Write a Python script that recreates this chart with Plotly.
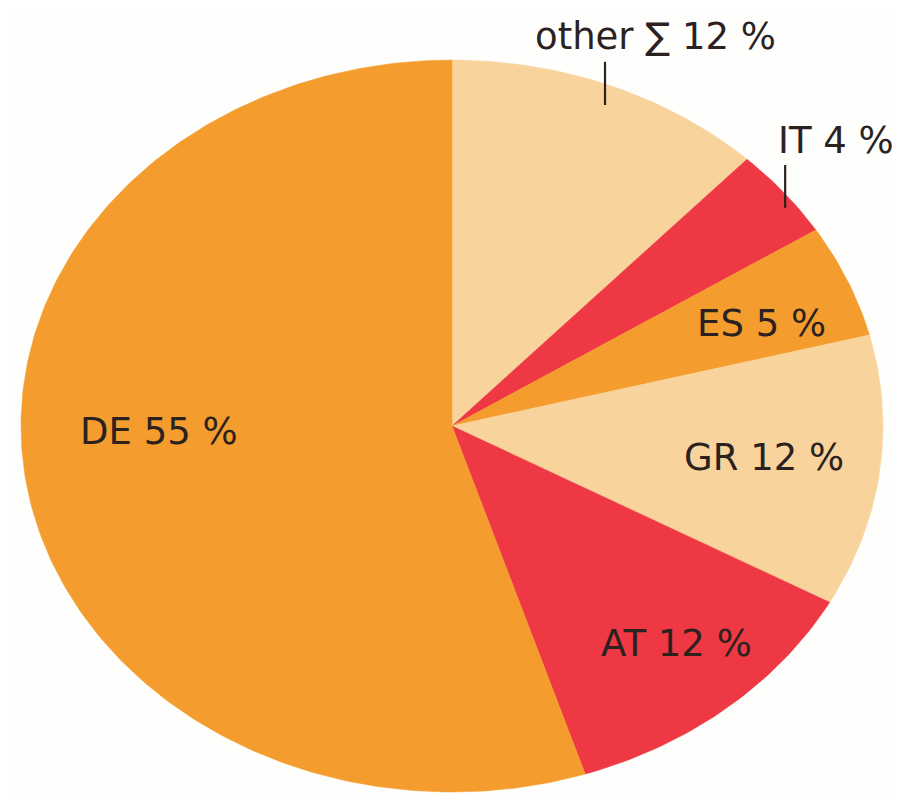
import numpy as np
import plotly.graph_objects as go

# ---- data ----
categories = ["other", "IT", "ES", "GR", "AT", "DE"]
shares = [12, 4, 5, 12, 12, 55]
labels = ["other \u2211 12 %", "IT 4 %", "ES 5 %", "GR 12 %", "AT 12 %", "DE 55 %"]

# ---- styling ----
colors = ["#F8D49C", "#EE3843", "#F49D2E", "#F8D49C", "#EE3843", "#F49D2E"]
text_color = "#2B221F"
# label anchors in normalized ellipse units (x: -1..1, y: -1..1)
label_pos = [(0.473, 1.063), (0.891, 0.781), (0.719, 0.281),
             (0.724, -0.087), (0.522, -0.593), (-0.680, -0.014)]
# leader lines for outside labels: (x, y0, y1)
leaders = [(0.355, 0.995, 0.877), (0.773, 0.713, 0.596)]

W, H = 900, 795
OFF = 8  # page body margin
cx_px, cy_px = 452 - OFF, 426 - OFF
rx_px, ry_px = 431, 366

fig = go.Figure()

total = float(sum(shares))
start = 0.0
for cat, val, col in zip(categories, shares, colors):
    a0 = start / total * 2 * np.pi
    a1 = (start + val) / total * 2 * np.pi
    n = max(int(val * 4), 8)
    th = np.linspace(a0, a1, n)
    xs = np.concatenate([[0], np.sin(th), [0]])
    ys = np.concatenate([[0], np.cos(th), [0]])
    fig.add_trace(go.Scatter(x=xs, y=ys, mode="lines", fill="toself",
                             fillcolor=col, line=dict(color=col, width=0.5),
                             hoverinfo="text", text=cat, showlegend=False))
    start += val

for lab, (lx, ly) in zip(labels, label_pos):
    fig.add_annotation(x=lx, y=ly, text=lab, showarrow=False,
                       xanchor="center", yanchor="middle",
                       font=dict(family="DejaVu Sans", size=37, color=text_color))

for (lx, y0, y1) in leaders:
    fig.add_shape(type="line", x0=lx, x1=lx, y0=y0, y1=y1,
                  line=dict(color=text_color, width=2.2))

fig.update_layout(
    width=W, height=H,
    margin=dict(l=0, r=0, t=0, b=0),
    paper_bgcolor="#FEFEFC", plot_bgcolor="#FEFEFC",
    xaxis=dict(range=[-cx_px / rx_px, (W - cx_px) / rx_px], visible=False, fixedrange=True),
    yaxis=dict(range=[(cy_px - H) / ry_px, cy_px / ry_px], visible=False, fixedrange=True),
)

fig.write_html("out.html")
